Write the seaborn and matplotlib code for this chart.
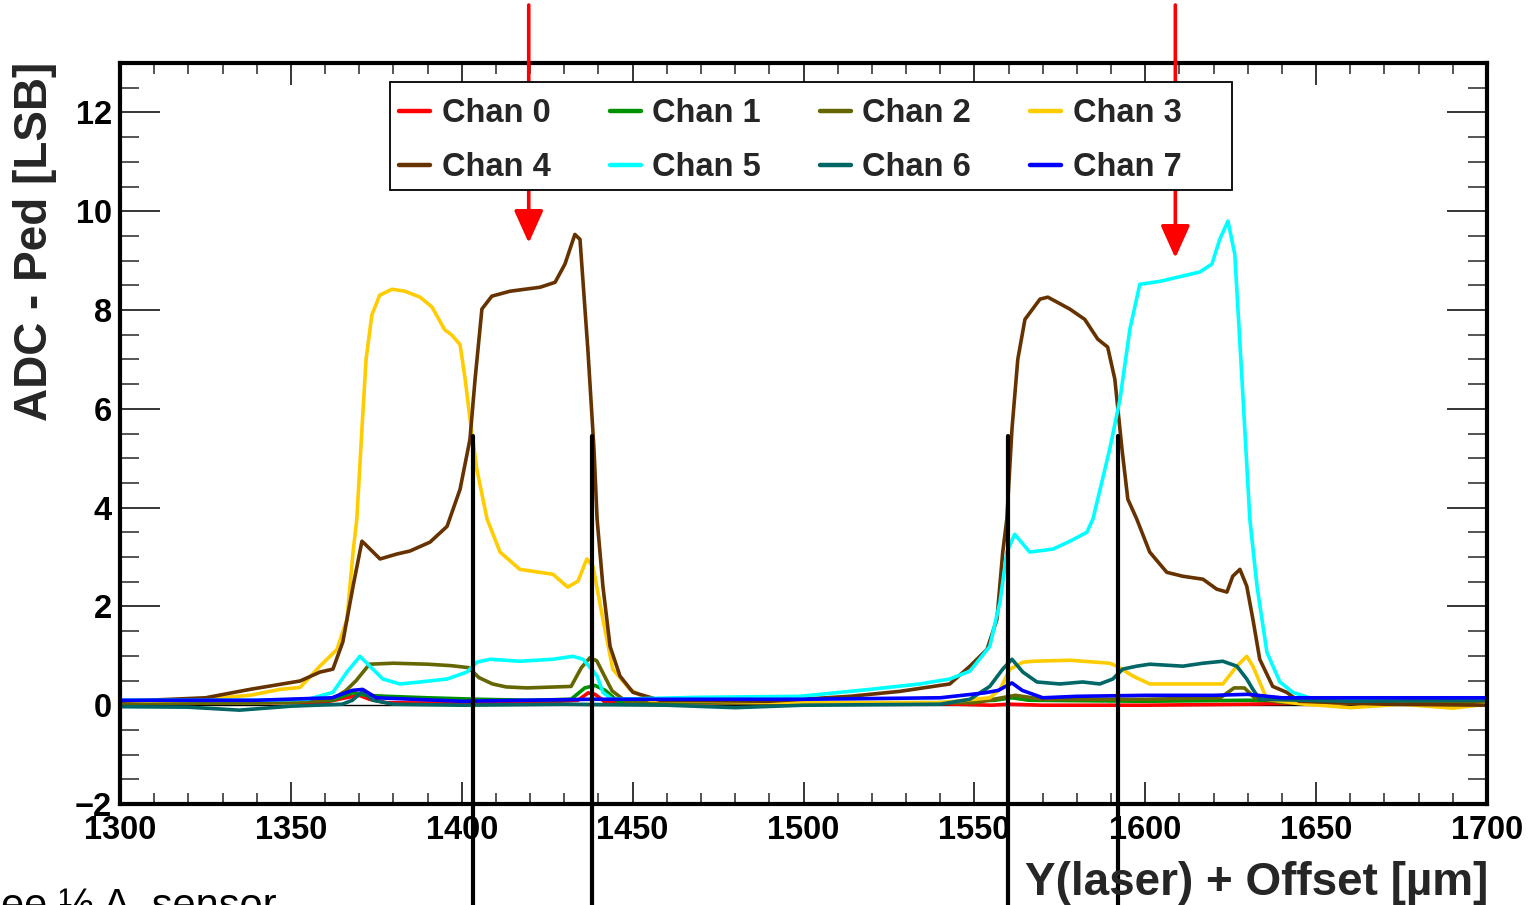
import numpy as np
import pandas as pd
import matplotlib
matplotlib.use("Agg")
import matplotlib.pyplot as plt
from matplotlib.lines import Line2D
from matplotlib.patches import Rectangle
from matplotlib.ticker import MultipleLocator
import seaborn as sns

# ---------------- data ----------------
channels = ["Chan 0", "Chan 1", "Chan 2", "Chan 3", "Chan 4", "Chan 5", "Chan 6", "Chan 7"]
colors = ["#ff0000", "#009100", "#666600", "#ffcc00", "#663300", "#00ffff", "#006666", "#0000ff"]

chan0_x = [1300, 1320, 1340, 1360, 1366, 1370, 1373, 1378, 1400, 1420, 1434, 1437, 1439, 1442, 1460, 1500, 1540, 1555, 1560, 1570, 1600, 1630, 1650, 1700]
chan0_y = [0.05, 0.04, 0.05, 0.06, 0.15, 0.2, 0.12, 0.05, 0.04, 0.05, 0.1, 0.25, 0.22, 0.06, 0.05, 0.04, 0.03, 0.0, 0.02, 0.0, 0.0, 0.02, 0.05, 0.05]

chan1_x = [1300, 1340, 1362, 1368, 1372, 1378, 1390, 1405, 1420, 1432, 1436, 1439, 1442, 1446, 1480, 1540, 1556, 1561, 1566, 1600, 1630, 1700]
chan1_y = [0.05, 0.05, 0.1, 0.25, 0.2, 0.18, 0.15, 0.12, 0.1, 0.12, 0.35, 0.4, 0.3, 0.06, 0.05, 0.05, 0.1, 0.15, 0.1, 0.08, 0.1, 0.05]

chan2_x = [1300, 1350, 1362, 1366, 1369, 1373, 1380, 1390, 1397, 1402, 1405, 1409, 1413, 1419, 1432, 1435, 1437.5, 1439.5, 1442.5, 1444, 1448, 1500, 1550, 1558, 1562, 1570, 1600, 1622, 1626, 1629, 1632, 1640, 1700]
chan2_y = [0.05, 0.05, 0.12, 0.29, 0.49, 0.83, 0.85, 0.83, 0.8, 0.76, 0.56, 0.43, 0.37, 0.35, 0.38, 0.76, 0.96, 0.9, 0.49, 0.29, 0.08, 0.05, 0.05, 0.15, 0.2, 0.12, 0.12, 0.15, 0.35, 0.35, 0.15, 0.05, 0.05]

chan3_x = [1300, 1320, 1338, 1346.8, 1352.7, 1358.5, 1363.5, 1366.4, 1368.2, 1369.3, 1370.8, 1372, 1373.7, 1376, 1379.6, 1383.4,
           1387.8, 1391.3, 1395, 1397, 1399.5, 1401, 1402.4, 1404.4, 1407.4, 1411.2, 1417, 1426.7, 1431, 1434, 1436.6, 1438.4,
           1441.3, 1444.2, 1449.2, 1455, 1500, 1540, 1554.5, 1557.5, 1560.4, 1564.2, 1567.1, 1578, 1589.6, 1591.7, 1596.4,
           1601.3, 1622.7, 1626.8, 1629.7, 1631.5, 1635.6, 1645, 1660, 1675, 1690, 1700]
chan3_y = [0.08, 0.1, 0.2, 0.32, 0.36, 0.79, 1.13, 1.74, 3.1, 3.77, 5.6, 7.0, 7.9, 8.3, 8.42, 8.38,
           8.26, 8.06, 7.6, 7.5, 7.3, 6.6, 5.8, 4.78, 3.77, 3.1, 2.75, 2.65, 2.39, 2.51, 2.96, 2.81,
           1.74, 0.73, 0.32, 0.1, 0.05, 0.05, 0.15, 0.32, 0.73, 0.87, 0.89, 0.91, 0.85, 0.79, 0.59,
           0.43, 0.43, 0.79, 0.99, 0.79, 0.12, 0.03, -0.05, 0.02, -0.06, 0.02]

chan4_x = [1300, 1315, 1325, 1338, 1352.7, 1358.5, 1362.3, 1365.2, 1368.2, 1370.8, 1372.3, 1376.1, 1381, 1384.8, 1390.7, 1395.7,
           1399.5, 1402.4, 1403.9, 1405.9, 1408.8, 1414.1, 1422.9, 1427.3, 1430.2, 1433.1, 1434.6, 1436.9, 1438.7, 1439.6,
           1441.3, 1443.4, 1446.3, 1450.1, 1458, 1490, 1513.6, 1528.2, 1542.8, 1548.7, 1553.7, 1556.6, 1558.3, 1559.5, 1561,
           1562.7, 1564.8, 1569.2, 1571.5, 1577.9, 1582.3, 1586.1, 1589, 1591.1, 1593.2, 1594.9, 1597.5, 1601.3, 1606.3,
           1611, 1616.9, 1620.9, 1623.9, 1625.6, 1627.7, 1629.7, 1631.5, 1633.5, 1637.3, 1641.4, 1645, 1670, 1700]
chan4_y = [0.08, 0.12, 0.15, 0.32, 0.49, 0.67, 0.73, 1.28, 2.41, 3.32, 3.22, 2.96, 3.06, 3.12, 3.3, 3.62,
           4.37, 5.38, 6.6, 8.02, 8.28, 8.38, 8.46, 8.56, 8.93, 9.53, 9.43, 7.2, 5.18, 3.77,
           2.41, 1.19, 0.59, 0.26, 0.1, 0.08, 0.18, 0.28, 0.43, 0.79, 1.13, 1.74, 3.1, 3.77, 5.59,
           7.0, 7.81, 8.22, 8.26, 8.02, 7.81, 7.41, 7.25, 6.6, 5.18, 4.17, 3.77, 3.1, 2.69,
           2.61, 2.55, 2.35, 2.29, 2.61, 2.75, 2.41, 1.74, 0.93, 0.38, 0.26, 0.08, 0.02, 0.0]

chan5_x = [1300, 1340, 1355, 1362.3, 1366.4, 1370.2, 1373.1, 1376.9, 1381.9, 1387.8, 1395.7, 1401.5, 1404.4, 1408.3, 1417,
           1426.7, 1432.5, 1435.5, 1439.6, 1441.3, 1444, 1469.7, 1499, 1519.4, 1534, 1542.8, 1548.7, 1554.5, 1557.5, 1559.5,
           1561.8, 1566.2, 1573, 1578, 1582.9, 1584.7, 1589.6, 1592.6, 1595.5, 1598.4, 1604.3, 1616, 1619.5, 1621.8, 1624.2,
           1626.2, 1628.3, 1630.6, 1632.7, 1635.6, 1639.4, 1643.2, 1648, 1700]
chan5_y = [0.1, 0.1, 0.12, 0.26, 0.67, 0.99, 0.79, 0.53, 0.43, 0.47, 0.53, 0.67, 0.87, 0.93, 0.89,
           0.93, 0.99, 0.93, 0.59, 0.26, 0.12, 0.16, 0.18, 0.32, 0.43, 0.53, 0.69, 1.19, 2.09, 3.1,
           3.46, 3.1, 3.16, 3.32, 3.5, 3.77, 5.18, 6.19, 7.61, 8.52, 8.58, 8.77, 8.93, 9.43, 9.8,
           9.13, 6.6, 3.77, 2.41, 1.07, 0.47, 0.26, 0.15, 0.12]

chan6_x = [1300, 1320, 1335, 1350, 1365, 1368, 1371, 1374, 1380, 1400, 1430, 1460, 1480, 1500, 1540, 1548.7, 1554.5, 1558.3,
           1561, 1564.2, 1568.3, 1575, 1581.7, 1586.7, 1590.5, 1593.4, 1597.5, 1601.3, 1611, 1616.9, 1622.7, 1626.8, 1629.7,
           1631.5, 1633.5, 1660, 1700]
chan6_y = [-0.03, -0.04, -0.1, -0.02, 0.02, 0.1, 0.28, 0.1, 0.02, 0.0, 0.02, 0.0, -0.05, 0.0, 0.02, 0.12, 0.38, 0.73,
           0.93, 0.67, 0.47, 0.43, 0.47, 0.43, 0.53, 0.73, 0.79, 0.83, 0.79, 0.85, 0.89, 0.79, 0.53,
           0.32, 0.12, 0.08, 0.1]

chan7_x = [1300, 1340, 1362, 1368, 1371, 1375, 1400, 1438, 1500, 1540, 1553, 1557, 1561, 1564, 1570, 1580, 1600, 1620, 1630, 1640, 1700]
chan7_y = [0.1, 0.1, 0.15, 0.3, 0.32, 0.15, 0.08, 0.12, 0.12, 0.15, 0.25, 0.3, 0.45, 0.3, 0.15, 0.18, 0.2, 0.2, 0.22, 0.15, 0.15]

chan_x = [chan0_x, chan1_x, chan2_x, chan3_x, chan4_x, chan5_x, chan6_x, chan7_x]
chan_y = [chan0_y, chan1_y, chan2_y, chan3_y, chan4_y, chan5_y, chan6_y, chan7_y]

# markers drawn on top of the plot
arrow_positions = [1419.6, 1608.8]                  # red arrows (x in um)
cut_positions = [1403.2, 1438.0, 1559.9, 1592.1]    # black vertical lines (x in um)

x_label = "Y(laser) + Offset [µm]"
y_label = "ADC - Ped [LSB]"
note_text = "ee ½ A  sensor"

# ---------------- build table ----------------
frames = []
for name, xs, ys in zip(channels, chan_x, chan_y):
    frames.append(pd.DataFrame({"x": xs, "y": ys, "channel": name}))
df = pd.concat(frames, ignore_index=True)

# ---------------- style ----------------
sns.set_style("white")
plt.rcParams["font.family"] = ["Liberation Sans", "DejaVu Sans"]
plt.rcParams["axes.unicode_minus"] = True

W, H = 1536, 905
fig = plt.figure(figsize=(W / 100, H / 100), dpi=100)
ax = fig.add_axes([120 / W, 1 - 804 / H, 1367 / W, 741 / H])

ax.axhline(0, color="black", lw=1.0, zorder=1)

palette = dict(zip(channels, colors))
sns.lineplot(data=df, x="x", y="y", hue="channel", hue_order=channels, palette=palette,
             estimator=None, sort=True, linewidth=2.6, legend=False, ax=ax, zorder=2)

ax.set_xlim(1300, 1700)
ax.set_ylim(-2, 13)
ax.set_xlabel("")
ax.set_ylabel("")

ax.xaxis.set_major_locator(MultipleLocator(50))
ax.xaxis.set_minor_locator(MultipleLocator(10))
ax.yaxis.set_major_locator(MultipleLocator(2))
ax.yaxis.set_minor_locator(MultipleLocator(0.5))

for s in ax.spines.values():
    s.set_linewidth(3.0)
    s.set_color("black")

ax.tick_params(axis="x", which="major", direction="in", length=16, width=1.1, top=True, bottom=True,
               labelsize=23.5, pad=8, colors="black")
ax.tick_params(axis="x", which="minor", direction="in", length=8, width=1.1, top=True, bottom=True)
ax.tick_params(axis="y", which="major", direction="in", length=29, width=1.1, left=True, right=True,
               labelsize=23.5, pad=6, colors="black")
ax.tick_params(axis="y", which="minor", direction="in", length=14, width=1.1, left=True, right=True)
for lab in ax.get_xticklabels() + ax.get_yticklabels():
    lab.set_fontweight("bold")

# axis titles (ROOT style: aligned to the end of the axes)
fig.text(1488 / W, 1 - 895 / H, x_label, ha="right", va="baseline", fontsize=33, fontweight="bold")
fig.text(35 / W, 1 - 62 / H, y_label, ha="center", va="top", rotation=90, fontsize=33, fontweight="bold")

# legend frame (fixed size box, ROOT TLegend style)
fig.add_artist(Rectangle((390 / W, 1 - 190 / H), (1232 - 390) / W, (190 - 82) / H,
                         transform=fig.transFigure, facecolor="white", edgecolor="black",
                         lw=1.3, zorder=4))
# legend entries, 4 columns filled row-wise
handles = [Line2D([], [], color=c, lw=3.2) for c in colors]
order = [0, 4, 1, 5, 2, 6, 3, 7]
leg = fig.legend([handles[i] for i in order], [channels[i] for i in order], ncol=4,
                 loc="upper left", bbox_to_anchor=(388 / W, 1 - 87 / H), bbox_transform=fig.transFigure,
                 frameon=False, prop={"weight": "bold", "size": 23.5}, handlelength=0.95,
                 handletextpad=0.35, columnspacing=1.81, labelspacing=0.70, borderpad=0.35,
                 borderaxespad=0)
leg.set_zorder(5)

# black vertical marker lines
for xc in cut_positions:
    ax.plot([xc, xc], [5.45, -4.3], color="black", lw=3.0, clip_on=False, zorder=6)

# red arrows from above the frame
tips = [1 - 243 / H, 1 - 258 / H]
for xa, tip in zip(arrow_positions, tips):
    ax.annotate("", xy=(xa, tip), xytext=(xa, 1 - 5 / H),
                xycoords=("data", "figure fraction"), textcoords=("data", "figure fraction"),
                arrowprops=dict(arrowstyle="-|>,head_length=1.0,head_width=0.45", color="#ff0000",
                                lw=2.6, shrinkA=0, shrinkB=0, mutation_scale=20),
                annotation_clip=False, zorder=7)

# cut-off note at bottom left
fig.text(277 / W, 1 - 918 / H, note_text, ha="right", va="baseline", fontsize=30, color="black")

fig.savefig("out.png", dpi=100)
